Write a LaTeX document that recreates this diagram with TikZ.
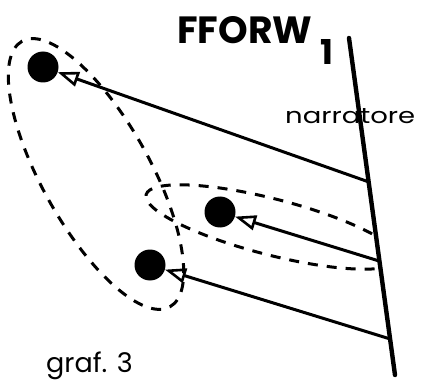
\documentclass[tikz,border=0pt]{standalone}
\usepackage{fontspec}
\setmainfont{Poppins}
\usetikzlibrary{arrows.meta,calc}
\begin{document}
\begin{tikzpicture}[x=1pt,y=-1pt,
  dot/.style={circle,fill=black,minimum size=31pt,inner sep=0pt},
  link/.style={line width=3pt,-{Triangle[open,length=21pt,width=15pt,line width=2.6pt]}},
  group/.style={line width=3pt,dash pattern=on 10pt off 9pt},
  axisline/.style={line width=4.4pt,line cap=round},
  lbl/.style={anchor=base west,inner sep=0pt}]
\useasboundingbox (0,0) rectangle (426,385);
% texts
\node[lbl] (title) at (177,44) {\resizebox{135pt}{27pt}{\bfseries FFORW}};
\node[lbl] (sub) at (320,65) {\resizebox{!}{25pt}{\bfseries 1}};
\node[lbl] (narr) at (285,124) {\resizebox{130pt}{15pt}{narratore}};
\node[lbl] (caption) at (46,372) {\fontsize{27pt}{30pt}\selectfont graf. 3};
% narrator line
\coordinate (N1) at (349,38);
\coordinate (N2) at (395,375);
\draw[axisline] (N1) -- (N2);
\coordinate (P1) at ($(N1)!0.427!(N2)$);
\coordinate (P2) at ($(N1)!0.662!(N2)$);
\coordinate (P3) at ($(N1)!0.893!(N2)$);
% dots
\node[dot] (d1) at (43,67) {};
\node[dot] (d2) at (220,212) {};
\node[dot] (d3) at (150,265) {};
% groups
\coordinate (c1) at (96,174);
\draw[group,rotate around={-60.9:(c1)}] (c1) ellipse [x radius=152pt, y radius=54pt];
\coordinate (c2) at (272,227);
\coordinate (T0) at ($(N1)!-0.2!(N2)$);
\coordinate (T1) at ($(N1)!1.2!(N2)$);
\begin{scope}
\clip (T0) -- (T1) -- (0,460) -- (0,-80) -- cycle;
\draw[group,rotate around={-14.4:(c2)}] (c2) ellipse [x radius=130pt, y radius=28pt];
\end{scope}
% connectors
\draw[link] (P1) -- (d1);
\draw[link] (P2) -- (d2);
\draw[link] (P3) -- (d3);
\end{tikzpicture}
\end{document}
